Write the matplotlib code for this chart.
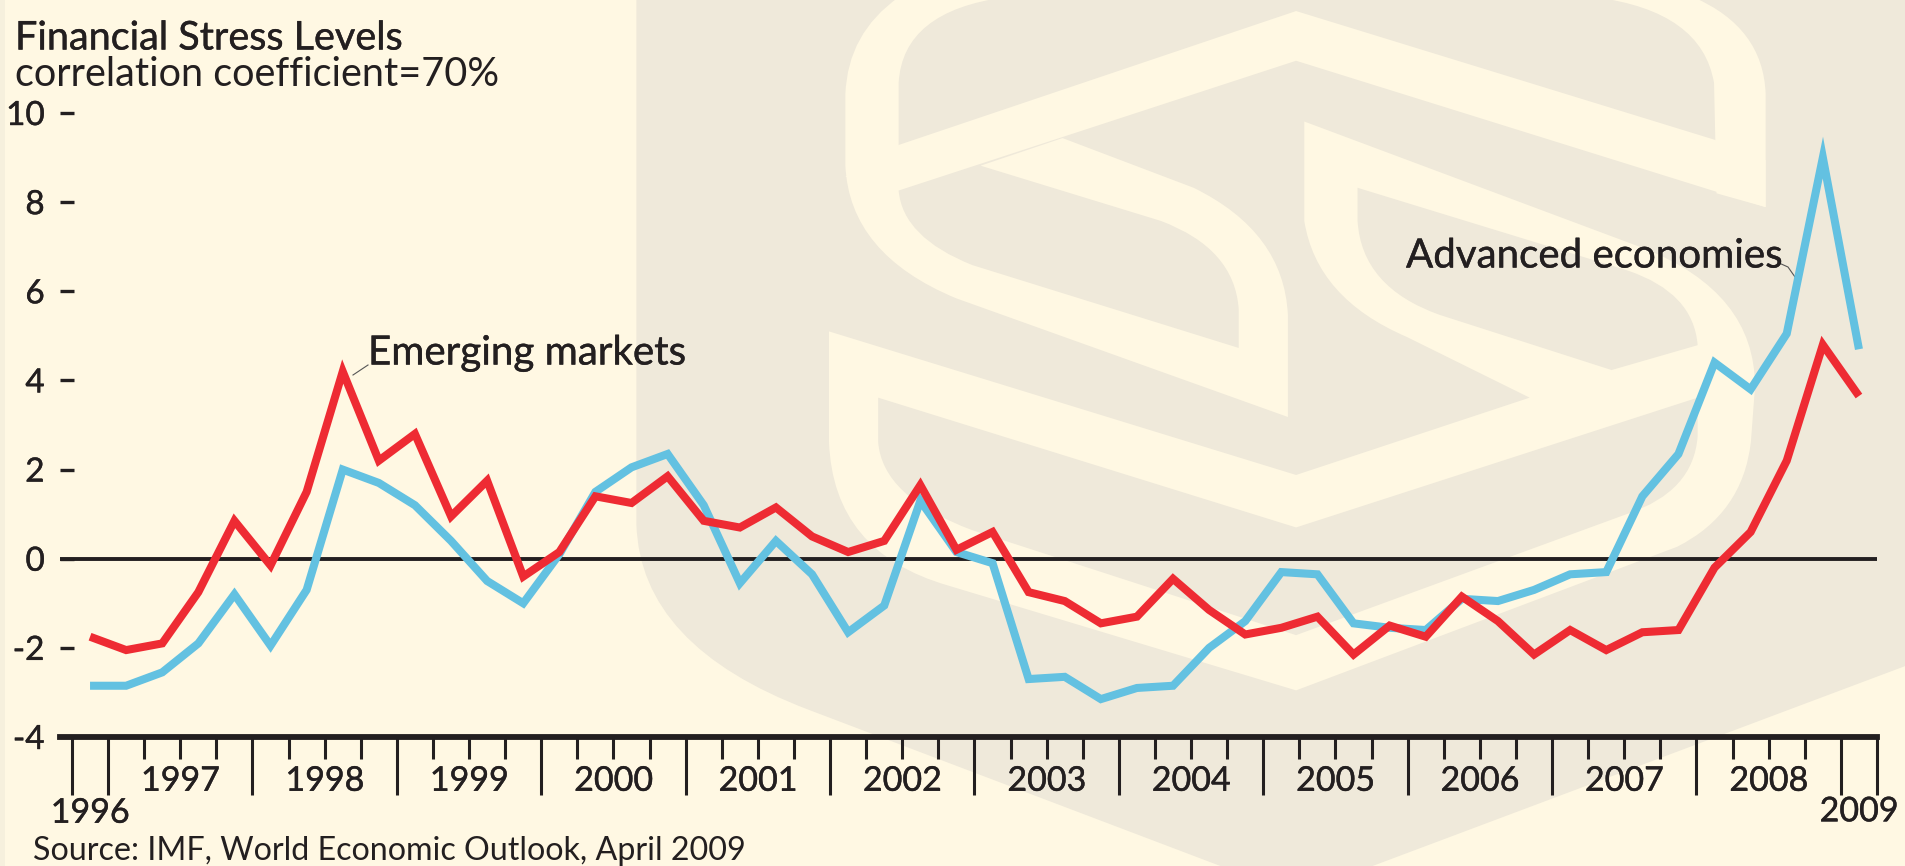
import matplotlib
matplotlib.use("Agg")
import matplotlib.pyplot as plt
import matplotlib.patheffects as pe
from matplotlib.path import Path
from matplotlib.patches import PathPatch

# quarterly values, 1996 Q4 to 2009 Q1
quarters = [1996.875 + 0.25 * i for i in range(50)]
advanced = [-2.85, -2.85, -2.55, -1.9, -0.8, -1.95, -0.7, 2.0, 1.7, 1.2,
            0.4, -0.5, -1.0, 0.1, 1.5, 2.05, 2.35, 1.2, -0.55, 0.4,
            -0.35, -1.65, -1.05, 1.3, 0.15, -0.1, -2.7, -2.65, -3.15, -2.9,
            -2.85, -2.0, -1.4, -0.3, -0.35, -1.45, -1.55, -1.6, -0.9, -0.95,
            -0.7, -0.35, -0.3, 1.4, 2.35, 4.4, 3.8, 5.05, 9.0, 4.7]
emerging = [-1.75, -2.05, -1.9, -0.75, 0.85, -0.15, 1.5, 4.2, 2.2, 2.8,
            0.95, 1.75, -0.4, 0.15, 1.4, 1.25, 1.85, 0.85, 0.7, 1.15,
            0.5, 0.15, 0.4, 1.65, 0.2, 0.6, -0.75, -0.95, -1.45, -1.3,
            -0.45, -1.15, -1.7, -1.55, -1.3, -2.15, -1.5, -1.75, -0.85, -1.4,
            -2.15, -1.6, -2.05, -1.65, -1.6, -0.2, 0.6, 2.2, 4.8, 3.65]
y_ticks = [-4, -2, 0, 2, 4, 6, 8, 10]
year_labels = list(range(1997, 2009))

W, H = 1905, 866
CREAM = "#FFF8E3"
DARK = "#EFE9DA"
INK = "#231F20"
BLUE = "#63C1E1"
RED = "#EE2B33"
FONT = "Lato"
HEAVY = [pe.withStroke(linewidth=0.3, foreground=INK)]

plt.rcParams["font.family"] = FONT

fig = plt.figure(figsize=(W / 100, H / 100), dpi=100, facecolor=CREAM)

# background layer in pixels
bg = fig.add_axes([0, 0, 1, 1])
bg.set_xlim(0, W)
bg.set_ylim(H, 0)
bg.axis("off")


def z(p):
    return (620 + p[0] * 0.8195, p[1] * 0.5523)


def forma(segs, color):
    verts, codes = [], []
    for s in segs:
        if s[0] == "M":
            verts.append(z(s[1]))
            codes.append(Path.MOVETO)
        elif s[0] == "L":
            verts.append(z(s[1]))
            codes.append(Path.LINETO)
        else:
            verts += [z(s[1]), z(s[2])]
            codes += [Path.CURVE3, Path.CURVE3]
    verts.append(verts[0])
    codes.append(Path.CLOSEPOLY)
    bg.add_patch(PathPatch(Path(verts, codes), facecolor=color, edgecolor="none"))


bg.axvspan(0, 5, color="#F6F0DD", lw=0)

# logo watermark
forma([("M", (20, -5)), ("L", (1570, -5)), ("L", (1570, 1205)), ("L", (825, 1620)),
       ("L", (230, 1285)), ("Q", (25, 1170), (20, 950))], DARK)
# top chevron
forma([("M", (275, 320)), ("L", (335, 265)), ("L", (825, 20)), ("L", (1340, 255)), ("L", (1398, 290)),
       ("L", (1398, 375)), ("L", (825, 110)), ("L", (340, 345))], CREAM)
# left arc and first S
forma([("M", (340, -5)), ("Q", (278, 60), (275, 170)), ("L", (275, 300)), ("Q", (280, 460), (410, 540)),
       ("L", (815, 755)), ("L", (815, 570)), ("Q", (810, 420), (700, 340)), ("L", (540, 250)), ("L", (440, 300)),
       ("L", (660, 400)), ("Q", (750, 450), (755, 560)), ("L", (755, 630)), ("L", (430, 480)),
       ("Q", (345, 430), (340, 345)), ("L", (340, 150)), ("Q", (345, 20), (470, -5))], CREAM)
# right arc
forma([("M", (1310, -5)), ("Q", (1395, 50), (1398, 170)), ("L", (1398, 375)), ("L", (1338, 350)),
       ("L", (1335, 150)), ("Q", (1320, 20), (1190, -5))], CREAM)
# second S and lower U
forma([("M", (835, 220)), ("L", (1250, 450)), ("Q", (1385, 530), (1385, 700)), ("L", (1380, 800)),
       ("Q", (1370, 930), (1290, 990)), ("L", (825, 1250)), ("L", (400, 1060)), ("Q", (260, 1000), (255, 800)),
       ("L", (255, 600)), ("L", (825, 860)), ("L", (1110, 720)), ("L", (960, 610)), ("Q", (850, 540), (835, 400))],
      CREAM)
forma([("M", (900, 340)), ("L", (1230, 490)), ("Q", (1310, 530), (1315, 625)), ("L", (1210, 670)),
       ("L", (1000, 570)), ("Q", (905, 520), (900, 400))], DARK)
forma([("M", (315, 720)), ("L", (825, 955)), ("L", (1315, 720)), ("L", (1315, 790)), ("Q", (1310, 890), (1230, 930)),
       ("L", (825, 1150)), ("L", (430, 960)), ("Q", (320, 900), (315, 800))], DARK)

# chart, axes placed on the pixel positions of the picture
left, right, top, bottom = 60, 1877, 113, 737
ax = fig.add_axes([left / W, 1 - bottom / H, (right - left) / W, (bottom - top) / H])
ax.patch.set_alpha(0)
ax.set_xlim(1996.667, 2009.25)
ax.set_ylim(-4, 10)
for name in ["top", "left", "right"]:
    ax.spines[name].set_visible(False)
ax.spines["bottom"].set_linewidth(4.2)
ax.spines["bottom"].set_color(INK)

ax.axhline(0, color=INK, lw=2.8, zorder=1)
ax.plot(quarters, advanced, color=BLUE, lw=5.8, solid_joinstyle="miter", solid_capstyle="butt", zorder=2)
ax.plot(quarters, emerging, color=RED, lw=5.8, solid_joinstyle="miter", solid_capstyle="butt", zorder=3)

ax.set_yticks(y_ticks)
ax.set_yticklabels([str(v) for v in y_ticks])
ax.tick_params(axis="y", direction="in", length=10, width=2.4, color=INK, pad=11, labelsize=24, labelcolor=INK)
for lab in ax.get_yticklabels():
    lab.set_path_effects(HEAVY)

long_ticks = [1996.75] + list(range(1997, 2010)) + [2009.25]
short_ticks = [y + q for y in range(1997, 2009) for q in (0.25, 0.5, 0.75)]
ax.set_xticks(long_ticks)
ax.set_xticklabels([])
ax.set_xticks(short_ticks, minor=True)
ax.tick_params(axis="x", which="major", direction="out", length=42, width=2.2, color=INK)
ax.tick_params(axis="x", which="minor", direction="out", length=16, width=2.2, color=INK)

for year in year_labels:
    ax.annotate(str(year), (year + 0.5, -4), xytext=(0, -20), textcoords="offset points",
                ha="center", va="top", fontsize=24.5, color=INK, path_effects=HEAVY)
ax.annotate("1996", (1996.875, -4), xytext=(0, -43), textcoords="offset points",
            ha="center", va="top", fontsize=24.5, color=INK, path_effects=HEAVY)
ax.annotate("2009", (2009.125, -4), xytext=(0, -42), textcoords="offset points",
            ha="center", va="top", fontsize=24.5, color=INK, path_effects=HEAVY)

# titles and labels
bg.text(15, 38, "Financial Stress Levels", fontsize=28.5, va="center", color=INK, path_effects=HEAVY)
bg.text(15, 75, "correlation coefficient=70%", fontsize=28.5, va="center", color=INK)
bg.text(33, 851, "Source: IMF, World Economic Outlook, April 2009", fontsize=23.2, va="center", color=INK)
bg.text(368, 353, "Emerging markets", fontsize=29, va="center", color=INK, path_effects=HEAVY)
bg.text(1406, 256, "Advanced economies", fontsize=29, va="center", color=INK, path_effects=HEAVY)
bg.plot([353, 368], [375, 365], color="#555555", lw=0.8)
bg.plot([1779, 1788, 1795], [263, 267, 277], color="#555555", lw=0.8)

fig.savefig("out.png", dpi=100, facecolor=CREAM)
